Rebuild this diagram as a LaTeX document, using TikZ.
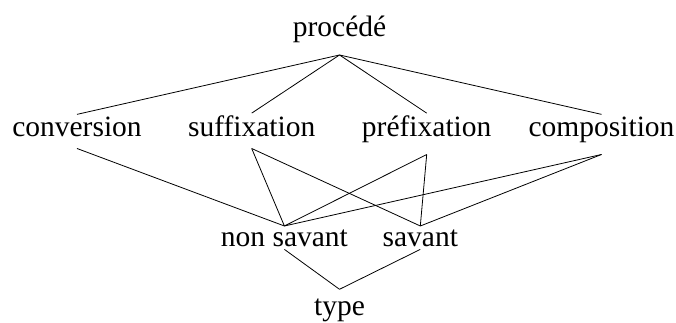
\documentclass[tikz,border=0pt]{standalone}
\usepackage{fontspec}
\setmainfont{Liberation Serif}
\begin{document}
\begin{tikzpicture}[x=1pt,y=1pt,
  lbl/.style={inner sep=0pt, anchor=base, font=\fontsize{29.5}{35}\selectfont},
  edge/.style={line width=0.8pt, black}]
\useasboundingbox (0,0) rectangle (676,322);
\node[lbl] (proc) at (339.5,285.3) {procédé};
\node[lbl] (conv) at (77,185.3) {conversion};
\node[lbl] (suff) at (251.7,185.3) {suffixation};
\node[lbl] (pref) at (426.7,185.3) {préfixation};
\node[lbl] (comp) at (601.5,185.3) {composition};
\node[lbl] (ns) at (284.4,76) {non savant};
\node[lbl] (sav) at (420.3,76) {savant};
\node[lbl] (type) at (339.5,7) {type};
\foreach \n in {conv,suff,pref,comp}
  \draw[edge] ([yshift=-11.8pt]proc.south) -- ([yshift=2.6pt]\n.north);
\foreach \n/\m in {conv/ns,suff/ns,suff/sav,pref/ns,pref/sav,comp/ns,comp/sav}
  \draw[edge] ([yshift=-11.3pt]\n.south) -- ([yshift=3.2pt]\m.north);
\foreach \n in {ns,sav}
  \draw[edge] ([yshift=-2.9pt]\n.south) -- ([yshift=8.9pt]type.north);
\end{tikzpicture}
\end{document}
